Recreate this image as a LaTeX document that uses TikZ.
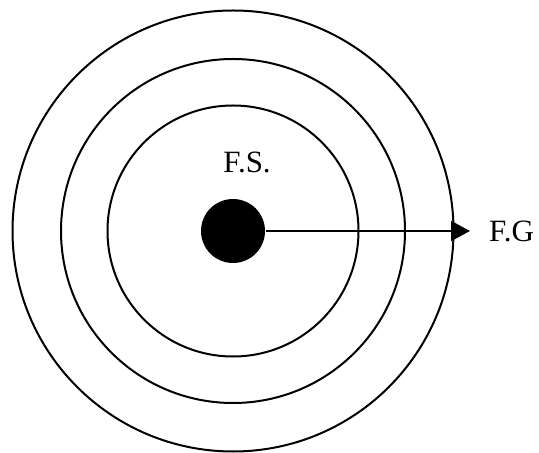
\documentclass[tikz,border=0pt]{standalone}
\usepackage{fontspec}
\setmainfont{Liberation Serif}
\usetikzlibrary{arrows.meta, positioning}

\begin{document}
\begin{tikzpicture}[x=0.5pt, y=-0.5pt, line width=1pt, >={Triangle[length=9.5pt, width=10pt]},
    lbl/.style={font=\fontsize{15.5}{18}\selectfont, inner sep=0pt}]
  \useasboundingbox (0,0) rectangle (539,453);
  % Rings
  \foreach \r in {125.5, 172, 220.5}
    \draw (233,231) circle (\r);
  % Source
  \node[circle, fill=black, minimum size=32pt, inner sep=0pt] (src) at (233,231) {};
  \node[lbl, anchor=base] (fs) at (247,173) {F.S.};
  % Direction
  \coordinate (tip) at (470,231);
  \draw[->] (src.east) -- (tip);
  \node[lbl, anchor=west] (fg) at (488,231) {F.G};
\end{tikzpicture}
\end{document}
